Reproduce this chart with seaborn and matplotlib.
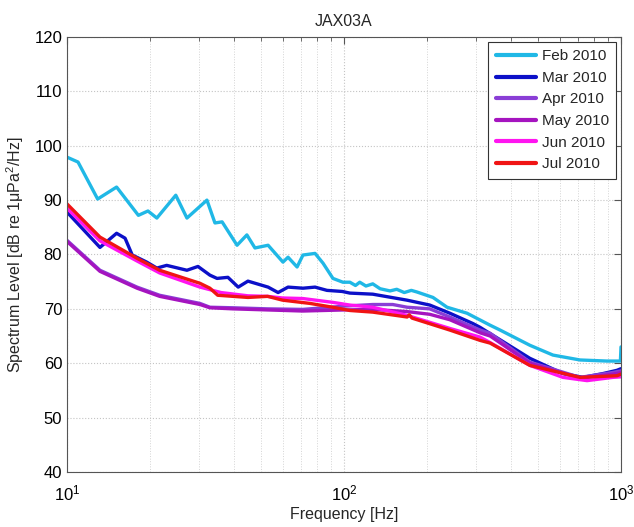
import numpy as np
import pandas as pd
import matplotlib
matplotlib.use("Agg")
import matplotlib.pyplot as plt
import seaborn as sns
from matplotlib.ticker import LogLocator, NullFormatter, MultipleLocator

months = ["Feb 2010", "Mar 2010", "Apr 2010", "May 2010", "Jun 2010", "Jul 2010"]
colors = ["#20b8e6", "#0c10c8", "#8a3ed6", "#a514bf", "#ff14f0", "#f01414"]

feb_f = [10, 10.96, 12.9, 15.1, 18.1, 19.6, 21.1, 24.7, 27.1, 32, 34.2, 36.3, 41.1, 44.6, 47.7,
         53.2, 60.2, 62.8, 67.7, 71.1, 78.6, 84, 91.2, 99.1, 105, 110, 114, 120, 127, 135, 146.6,
         155, 165, 175, 183.4, 209.5, 235.5, 278, 336.7, 366, 469, 568, 711, 890, 967, 995, 1000]
feb_v = [97.9, 97.0, 90.2, 92.4, 87.2, 88.0, 86.7, 90.9, 86.7, 90.0, 85.8, 86.0, 81.7, 83.6, 81.2,
         81.7, 78.6, 79.5, 77.7, 79.9, 80.2, 78.4, 75.6, 74.9, 74.9, 74.3, 74.9, 74.2, 74.6, 73.7, 73.3,
         73.6, 73.0, 73.4, 73.1, 72.1, 70.3, 69.2, 67.0, 66.1, 63.3, 61.5, 60.6, 60.4, 60.4, 60.4, 63.0]

mar_f = [10, 13.15, 15.1, 16.2, 17.2, 19.4, 21.1, 22.9, 27.1, 29.7, 32.8, 34.8, 38.1, 41.5, 45,
         53.2, 57.8, 62.8, 71.1, 78.6, 86.8, 98.5, 105, 127, 168.8, 204, 241, 292, 310, 469, 617,
         729, 861, 967, 1000]
mar_v = [87.8, 81.3, 83.9, 83.0, 79.9, 78.6, 77.5, 78.0, 77.1, 77.8, 76.2, 75.6, 75.8, 74.0, 75.1,
         74.0, 73.0, 74.0, 73.8, 74.0, 73.4, 73.2, 72.9, 72.7, 71.6, 70.7, 69.2, 67.3, 66.6, 60.9, 58.1,
         57.4, 58.1, 58.7, 59.0]

apr_f = [10, 13.15, 17.9, 21.6, 30.2, 32.8, 39.7, 53, 71, 100, 127, 150, 169, 204, 241, 310, 337,
         469, 711, 935, 1000]
apr_v = [82.6, 77.1, 74.0, 72.5, 71.0, 70.3, 70.2, 70.0, 69.9, 70.5, 70.8, 70.8, 70.3, 70.0, 68.5,
         66.1, 65.5, 60.2, 57.4, 58.3, 58.6]

may_f = [10, 13.15, 17.9, 21.6, 30.2, 32.8, 39.7, 53, 71, 100, 127, 169, 204, 241, 310, 337,
         469, 711, 935, 1000]
may_v = [82.4, 76.9, 73.8, 72.3, 70.8, 70.2, 70.0, 69.8, 69.6, 69.8, 69.9, 69.5, 69.0, 68.0, 65.6,
         65.0, 60.0, 57.2, 58.0, 58.3]

jun_f = [10, 13.15, 17.9, 21.6, 30.2, 36, 45, 53, 60, 71, 91, 105, 127, 169, 241, 310, 337, 469,
         617, 754, 935, 1000]
jun_v = [88.5, 82.5, 78.8, 76.6, 74.0, 73.0, 72.4, 72.3, 72.0, 71.9, 71.2, 70.7, 70.3, 68.8, 66.4,
         64.8, 63.8, 59.6, 57.4, 56.8, 57.4, 57.5]

jul_f = [10, 13.15, 17.9, 21.6, 30.2, 32.8, 35, 45, 53, 60, 75.4, 91, 105, 127, 169, 172, 176, 241,
         310, 337, 469, 711, 967, 1000]
jul_v = [89.3, 83.2, 79.3, 77.1, 74.7, 73.8, 72.5, 72.1, 72.3, 71.6, 71.0, 70.3, 69.7, 69.4, 68.5,
         68.9, 68.3, 66.1, 64.2, 63.7, 59.6, 57.4, 57.7, 58.0]

series_f = [feb_f, mar_f, apr_f, may_f, jun_f, jul_f]
series_v = [feb_v, mar_v, apr_v, may_v, jun_v, jul_v]

frames = []
for m, f, v in zip(months, series_f, series_v):
    frames.append(pd.DataFrame({"freq": f, "level": v, "month": m}))
df = pd.concat(frames, ignore_index=True)

sns.set_style("white")
plt.rcParams["font.family"] = ["Liberation Sans", "DejaVu Sans"]
plt.rcParams["mathtext.fontset"] = "custom"
plt.rcParams["mathtext.rm"] = "Liberation Sans"
plt.rcParams["mathtext.it"] = "Liberation Sans:italic"

fig = plt.figure(figsize=(6.34, 5.27), dpi=100)
ax = fig.add_axes([0.1057, 0.1044, 0.8738, 0.8254])

sns.lineplot(data=df, x="freq", y="level", hue="month", hue_order=months,
             palette=dict(zip(months, colors)), estimator=None, sort=False,
             linewidth=2.4, ax=ax)

ax.set_xscale("log")
ax.set_xlim(10, 1000)
ax.set_ylim(40, 120)
ax.yaxis.set_major_locator(MultipleLocator(10))
ax.xaxis.set_major_locator(LogLocator(base=10, numticks=10))
ax.xaxis.set_minor_locator(LogLocator(base=10, subs=np.arange(2, 10), numticks=20))
ax.xaxis.set_minor_formatter(NullFormatter())

ax.grid(True, which="major", axis="both", linestyle=":", color="#c4c4c4", linewidth=0.8)
ax.grid(True, which="minor", axis="x", linestyle=":", color="#d4d4d4", linewidth=0.7)

for s in ax.spines.values():
    s.set_color("#555555")
    s.set_linewidth(0.8)
ax.tick_params(which="both", direction="in", top=True, right=True, labelsize=12, colors="#555555",
               labelcolor="black")
ax.tick_params(which="major", length=5)
ax.tick_params(which="minor", length=3)
ax.tick_params(axis="x", which="major", pad=8)

ax.set_title("JAX03A", fontsize=11.5, pad=8)
ax.set_xlabel("Frequency [Hz]", fontsize=11.5, labelpad=3)
ax.set_ylabel("Spectrum Level [dB re 1μPa$^2$/Hz]", fontsize=11.5, labelpad=6)

leg = ax.legend(loc="upper right", fontsize=11, frameon=True, fancybox=False,
                edgecolor="#333333", framealpha=1, handlelength=2.6, borderpad=0.5,
                labelspacing=0.5, handletextpad=0.4, borderaxespad=0.3)
for line in leg.get_lines():
    line.set_linewidth(3)
leg.get_frame().set_linewidth(0.8)

fig.savefig("out.png", dpi=100)
